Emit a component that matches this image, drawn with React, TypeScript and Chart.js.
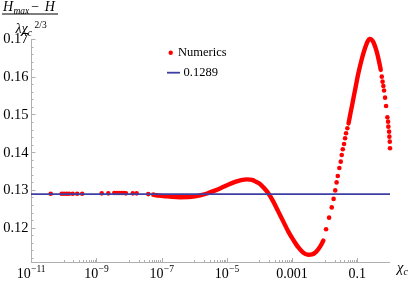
import React, { useEffect, useRef } from "react";
import { Chart, registerables } from "chart.js";
Chart.register(...registerables);

// ---------- data ----------
const refValue = 0.1289;
const refLabel = "0.1289";
const seriesLabel = "Numerics";

const xMin = 1e-11;
const xMax = 1;
const yMin = 0.1109;
const yMax = 0.17;

const yMajorTicks = [0.12, 0.13, 0.14, 0.15, 0.16, 0.17];
const yTickLabels = ["0.12", "0.13", "0.14", "0.15", "0.16", "0.17"];
const yMinorTicks = [0.112, 0.114, 0.116, 0.118, 0.122, 0.124, 0.126, 0.128, 0.132, 0.134, 0.136, 0.138, 0.142, 0.144, 0.146, 0.148, 0.152, 0.154, 0.156, 0.158, 0.162, 0.164, 0.166, 0.168];

const xMajorTicks = [1e-11, 1e-9, 1e-7, 1e-5, 1e-3, 1e-1];
const xTickBase = ["10", "10", "10", "10", "0.001", "0.1"];
const xTickExp = ["\u221211", "\u22129", "\u22127", "\u22125", "", ""];
const xMinorDecades = [1e-10, 1e-8, 1e-6, 1e-4, 1e-2];
const xMinorMultipliers = [1, 2, 3, 4, 5, 6, 7, 8, 9];

// isolated numeric points (left plateau)
const dotsLeftX = [4.02e-11, 8.7e-11, 1.03e-10, 1.24e-10, 1.46e-10, 1.9e-10, 2.6e-10, 3.7e-10, 1.47e-9, 2.34e-9, 3.57e-9, 4.23e-9, 4.97e-9, 6.0e-9, 7.1e-9, 8.1e-9, 1.31e-8, 1.73e-8, 3.93e-8, 5.6e-8];
const dotsLeftY = [0.1290, 0.1290, 0.1290, 0.1290, 0.1290, 0.1290, 0.1290, 0.1290, 0.1291, 0.1291, 0.1292, 0.1292, 0.1292, 0.1292, 0.1292, 0.1291, 0.1291, 0.1291, 0.1289, 0.12875];

// densely sampled middle part
const denseMidX = [6.3e-8, 7.8e-8, 1.28e-7, 2.1e-7, 3.69e-7, 6.5e-7, 1.06e-6, 1.62e-6, 2.48e-6, 4.06e-6, 6.65e-6, 1.09e-5, 1.79e-5, 2.73e-5, 4.17e-5, 5.93e-5, 7.86e-5, 1.04e-4, 1.38e-4, 1.87e-4, 2.66e-4, 3.79e-4, 5.4e-4, 7.68e-4, 1.09e-3, 1.56e-3, 2.17e-3, 3.09e-3, 4.09e-3, 5.43e-3, 7.2e-3, 9.08e-3];
const denseMidY = [0.12862, 0.12854, 0.12833, 0.12815, 0.12807, 0.12809, 0.12828, 0.12862, 0.12905, 0.12974, 0.13053, 0.13138, 0.13212, 0.13260, 0.13281, 0.13265, 0.13217, 0.13159, 0.13053, 0.12913, 0.12690, 0.12425, 0.12160, 0.11895, 0.11675, 0.11476, 0.11344, 0.11283, 0.11291, 0.11357, 0.11498, 0.11657];

// isolated rising points
const dotsRiseX = [1.1e-2, 1.36e-2, 1.64e-2, 1.87e-2, 2.1e-2, 2.31e-2, 2.51e-2, 2.81e-2, 3.1e-2, 3.32e-2, 3.57e-2, 3.91e-2, 4.2e-2, 4.5e-2, 4.94e-2];
const dotsRiseY = [0.11959, 0.12266, 0.12537, 0.12762, 0.12987, 0.13199, 0.13371, 0.13583, 0.13750, 0.13927, 0.14078, 0.14219, 0.14370, 0.14502, 0.14635];

// densely sampled peak
const densePeakX = [5.37e-2, 6.18e-2, 7.03e-2, 7.93e-2, 9.0e-2, 0.1014, 0.1169, 0.1346, 0.1528, 0.1722, 0.2055, 0.2333, 0.2687, 0.3135, 0.3612, 0.4159, 0.4721, 0.521];
const densePeakY = [0.14762, 0.15040, 0.15279, 0.15517, 0.15756, 0.15994, 0.16233, 0.16445, 0.16617, 0.16763, 0.16935, 0.17001, 0.16988, 0.16908, 0.16763, 0.16577, 0.16365, 0.16180];

// isolated falling points
const dotsFallX = [0.5597, 0.5916, 0.6265, 0.6577, 0.7063, 0.758, 0.8305, 0.873, 0.8913, 0.9375, 0.957, 0.984, 1.0];
const dotsFallY = [0.16002, 0.15870, 0.15756, 0.15636, 0.15446, 0.15226, 0.14926, 0.14810, 0.14677, 0.14545, 0.14412, 0.14280, 0.14105];

// ---------- helpers ----------
const FONT = '"Liberation Serif", "Times New Roman", serif';
const RED = "#ff0000";
const BLUE = "rgb(62,62,165)";
const AXIS = "rgb(175,175,175)";
const TEXT = "#000";

const pts = (xs: number[], ys: number[]) => xs.map((x, i) => ({ x, y: ys[i] }));

function txt(ctx: CanvasRenderingContext2D, s: string, x: number, y: number, size: number, italic = false, align: CanvasTextAlign = "left", baseline: CanvasTextBaseline = "alphabetic") {
  ctx.font = `${italic ? "italic " : ""}${size}px ${FONT}`;
  ctx.textAlign = align;
  ctx.textBaseline = baseline;
  ctx.fillText(s, x, y);
  return ctx.measureText(s).width;
}
function measure(ctx: CanvasRenderingContext2D, s: string, size: number, italic = false) {
  ctx.font = `${italic ? "italic " : ""}${size}px ${FONT}`;
  return ctx.measureText(s).width;
}

const overlay = {
  id: "overlay",
  beforeDatasetsDraw(chart: any) {
    const ctx: CanvasRenderingContext2D = chart.ctx;
    const xs = chart.scales.x;
    const ys = chart.scales.y;
    const { left, right, top, bottom } = chart.chartArea;
    ctx.save();
    ctx.strokeStyle = AXIS;
    ctx.lineWidth = 1;
    ctx.beginPath();
    ctx.moveTo(left, bottom + 0.5);
    ctx.lineTo(right, bottom + 0.5);
    ctx.moveTo(left + 0.5, bottom);
    ctx.lineTo(left + 0.5, top);
    ctx.stroke();
    ctx.beginPath();
    for (const v of yMajorTicks) {
      const y = Math.round(ys.getPixelForValue(v)) + 0.5;
      ctx.moveTo(left, y);
      ctx.lineTo(left + 4.5, y);
    }
    for (const v of yMinorTicks) {
      const y = Math.round(ys.getPixelForValue(v)) + 0.5;
      ctx.moveTo(left, y);
      ctx.lineTo(left + 2.5, y);
    }
    for (const v of xMajorTicks) {
      const x = Math.round(xs.getPixelForValue(v)) + 0.5;
      ctx.moveTo(x, bottom);
      ctx.lineTo(x, bottom - 4);
    }
    for (const d of xMinorDecades) {
      for (const k of xMinorMultipliers) {
        const x = Math.round(xs.getPixelForValue(d * k)) + 0.5;
        ctx.moveTo(x, bottom);
        ctx.lineTo(x, bottom - 2);
      }
    }
    ctx.stroke();
    ctx.restore();
  },
  afterDraw(chart: any) {
    const ctx: CanvasRenderingContext2D = chart.ctx;
    const xs = chart.scales.x;
    const ys = chart.scales.y;
    const { left, right } = chart.chartArea;
    ctx.save();
    ctx.fillStyle = TEXT;
    // y tick labels
    yMajorTicks.forEach((v, i) => {
      txt(ctx, yTickLabels[i], left - 2.5, ys.getPixelForValue(v) + 0.5, 14.5, false, "right", "middle");
    });
    // x tick labels
    xMajorTicks.forEach((v, i) => {
      const px = xs.getPixelForValue(v);
      const wb = measure(ctx, xTickBase[i], 14);
      const we = xTickExp[i] ? measure(ctx, xTickExp[i], 9.5) : 0;
      const start = px - (wb + we) / 2;
      txt(ctx, xTickBase[i], start, 277.5, 14);
      if (xTickExp[i]) txt(ctx, xTickExp[i], start + wb + 0.3, 272, 9.5);
    });
    // x axis label
    const wc = txt(ctx, "\u03c7", right + 7, 271.5, 14.5, true);
    txt(ctx, "c", right + 7 + wc, 275, 10, true);
    // y axis label (fraction)
    let x = 3;
    x += txt(ctx, "H", x, 11, 14, true);
    txt(ctx, "max", x + 0.3, 13.5, 9.5, true);
    txt(ctx, "\u2212", 31.2, 11, 14);
    txt(ctx, "H", 44.8, 11, 14, true);
    ctx.fillRect(2, 13.5, 56, 1);
    let dx = 15.5;
    dx += txt(ctx, "\u03bb", dx, 33, 14, true);
    dx += txt(ctx, "\u03c7", dx, 33, 14, true);
    txt(ctx, "c", dx, 36.3, 9.5, true);
    txt(ctx, "2/3", 34.5, 28, 9.5);
    // legend
    ctx.fillStyle = RED;
    ctx.beginPath();
    ctx.arc(170.7, 52.7, 2.2, 0, Math.PI * 2);
    ctx.fill();
    ctx.fillStyle = TEXT;
    txt(ctx, seriesLabel, 178, 53, 12.5, false, "left", "middle");
    ctx.strokeStyle = BLUE;
    ctx.lineWidth = 1.8;
    ctx.beginPath();
    ctx.moveTo(167, 72.7);
    ctx.lineTo(180, 72.7);
    ctx.stroke();
    txt(ctx, refLabel, 183.5, 73, 12.5, false, "left", "middle");
    ctx.restore();
  },
};

export default function App() {
  const ref = useRef<HTMLCanvasElement | null>(null);
  useEffect(() => {
    if (!ref.current) return;
    const chart = new Chart(ref.current, {
      type: "scatter",
      data: {
        datasets: [
          {
            label: refLabel,
            data: [{ x: xMin, y: refValue }, { x: xMax, y: refValue }],
            showLine: true,
            borderColor: BLUE,
            borderWidth: 1.8,
            pointRadius: 0,
            clip: false as any,
          },
          {
            label: seriesLabel,
            data: pts(denseMidX, denseMidY),
            showLine: true,
            borderColor: RED,
            borderWidth: 4.4,
            borderCapStyle: "round",
            borderJoinStyle: "round",
            cubicInterpolationMode: "monotone",
            pointRadius: 0,
            clip: false as any,
          },
          {
            label: seriesLabel,
            data: pts(densePeakX, densePeakY),
            showLine: true,
            borderColor: RED,
            borderWidth: 4.4,
            borderCapStyle: "round",
            borderJoinStyle: "round",
            cubicInterpolationMode: "monotone",
            pointRadius: 0,
            clip: false as any,
          },
          {
            label: seriesLabel,
            data: [...pts(dotsLeftX, dotsLeftY), ...pts(dotsRiseX, dotsRiseY), ...pts(dotsFallX, dotsFallY)],
            showLine: false,
            backgroundColor: RED,
            borderWidth: 0,
            pointRadius: 2.3,
            clip: false as any,
          },
        ],
      },
      options: {
        responsive: false,
        animation: false,
        devicePixelRatio: 1,
        events: [],
        layout: { padding: { left: 31, right: 21, top: 39, bottom: 19 } },
        plugins: { legend: { display: false }, tooltip: { enabled: false } },
        scales: {
          x: { type: "logarithmic", min: xMin, max: xMax, display: false },
          y: { type: "linear", min: yMin, max: yMax, display: false },
        },
      },
      plugins: [overlay],
    });
    return () => chart.destroy();
  }, []);
  return (
    <div style={{ position: "fixed", left: 0, top: 0, width: 411, height: 281, background: "#fff" }}>
      <canvas ref={ref} width={411} height={281} style={{ display: "block" }} />
    </div>
  );
}
